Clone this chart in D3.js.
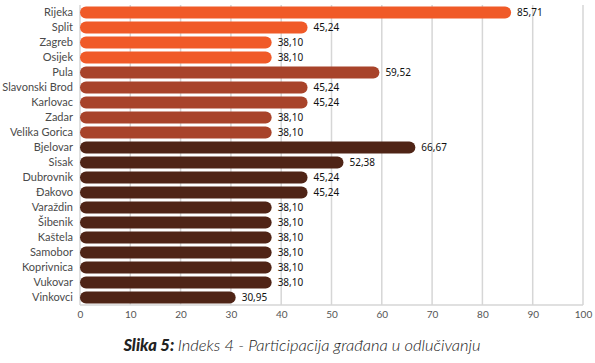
<!DOCTYPE html>
<html>
<head>
<meta charset="utf-8">
<script src="https://cdn.jsdelivr.net/npm/d3@7"></script>
<style>
  body { margin: 0; background: #fff; }
  svg { display: block; }
</style>
</head>
<body>
<div id="chart"></div>
<script>
// gradovi i vrijednosti indeksa
const cities = ["Rijeka", "Split", "Zagreb", "Osijek", "Pula", "Slavonski Brod", "Karlovac",
  "Zadar", "Velika Gorica", "Bjelovar", "Sisak", "Dubrovnik", "Đakovo", "Varaždin",
  "Šibenik", "Kaštela", "Samobor", "Koprivnica", "Vukovar", "Vinkovci"];
const values = [85.71, 45.24, 38.10, 38.10, 59.52, 45.24, 45.24, 38.10, 38.10, 66.67,
  52.38, 45.24, 45.24, 38.10, 38.10, 38.10, 38.10, 38.10, 38.10, 30.95];
const groups = [0, 0, 0, 0, 1, 1, 1, 1, 1, 2, 2, 2, 2, 2, 2, 2, 2, 2, 2, 2];
const xTicks = [0, 10, 20, 30, 40, 50, 60, 70, 80, 90, 100];
const colors = ["#f05a28", "#a8432a", "#4f2416"];

const W = 595, H = 363;
const margin = { left: 80, right: 12, top: 5, bottom: 58 };

const svg = d3.select("#chart").append("svg").attr("width", W).attr("height", H);

const x = d3.scaleLinear().domain([0, 100]).range([margin.left, 583]);
const y = d3.scaleBand().domain(cities).range([margin.top, 305]).paddingInner(0.2).paddingOuter(0.1);

// mreža
svg.append("g").selectAll("line").data(xTicks).join("line")
  .attr("x1", d => x(d)).attr("x2", d => x(d))
  .attr("y1", margin.top).attr("y2", 305)
  .attr("stroke", "#d6d6d6").attr("stroke-width", 1.5);

svg.append("line")
  .attr("x1", x(0)).attr("x2", x(100)).attr("y1", 305).attr("y2", 305)
  .attr("stroke", "#d6d6d6").attr("stroke-width", 1.5);

const xAxis = d3.axisBottom(x).tickValues(xTicks).tickSize(0).tickPadding(6);
const ax = svg.append("g").attr("transform", "translate(0,305)").call(xAxis);
ax.select(".domain").remove();
ax.selectAll("text").attr("font-family", "Lato, sans-serif").attr("font-size", 10).attr("fill", "#555");

// stupci
const bh = y.bandwidth();
svg.append("g").selectAll("rect").data(cities).join("rect")
  .attr("x", x(0))
  .attr("y", d => y(d))
  .attr("width", (d, i) => x(values[i]) - x(0))
  .attr("height", bh)
  .attr("rx", bh / 2)
  .attr("fill", (d, i) => colors[groups[i]]);

// nazivi
svg.append("g").selectAll("text").data(cities).join("text")
  .attr("x", x(0) - 7)
  .attr("y", d => y(d) + bh / 2)
  .attr("dy", "0.35em")
  .attr("text-anchor", "end")
  .attr("font-family", "Lato, sans-serif")
  .attr("font-size", 11)
  .attr("fill", "#4a4a4a")
  .text(d => d);

// vrijednosti
const fmt = v => v.toFixed(2).replace(".", ",");
svg.append("g").selectAll("text").data(cities).join("text")
  .attr("x", (d, i) => x(values[i]) + 6)
  .attr("y", d => y(d) + bh / 2)
  .attr("dy", "0.35em")
  .attr("font-family", "'Noto Sans', sans-serif")
  .attr("font-size", 10)
  .attr("fill", "#111")
  .text((d, i) => fmt(values[i]));

// naslov
const cap = svg.append("text")
  .attr("x", 302).attr("y", 351)
  .attr("text-anchor", "middle")
  .attr("font-family", "Lato, sans-serif")
  .attr("font-style", "italic")
  .attr("font-size", 16.5)
  .attr("fill", "#222");
cap.append("tspan").attr("font-weight", 900).text("Slika 5: ");
cap.append("tspan").attr("font-weight", 300).text("Indeks 4 - Participacija građana u odlučivanju");
</script>
</body>
</html>
